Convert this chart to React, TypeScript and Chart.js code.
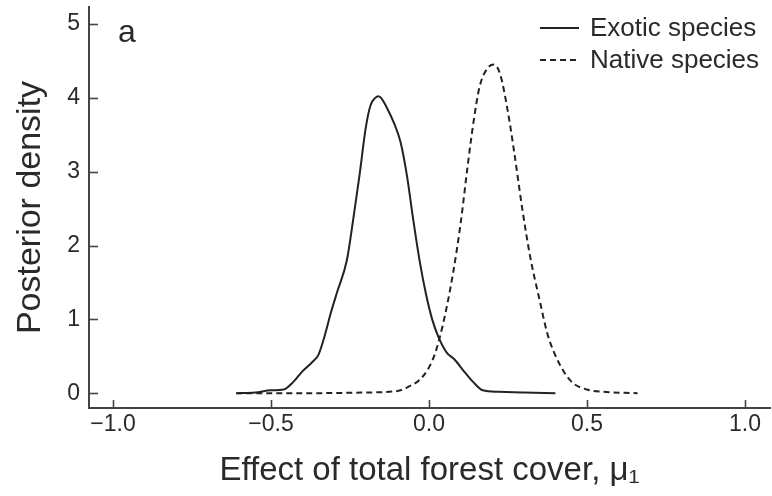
import React, { useEffect, useRef } from 'react';
import { Chart, registerables } from 'chart.js';

Chart.register(...registerables);

// ---- data ----
const exoticX = [-0.61, -0.55, -0.5, -0.46, -0.43, -0.4, -0.37, -0.35, -0.33, -0.31, -0.29, -0.26, -0.24, -0.22, -0.2, -0.185, -0.17, -0.16, -0.15, -0.135, -0.11, -0.09, -0.07, -0.05, -0.03, -0.01, 0.01, 0.03, 0.056, 0.08, 0.11, 0.14, 0.17, 0.22, 0.3, 0.4];
const exoticY = [0.0, 0.01, 0.04, 0.05, 0.15, 0.3, 0.42, 0.52, 0.78, 1.1, 1.38, 1.8, 2.35, 2.95, 3.6, 3.9, 4.0, 4.02, 3.99, 3.88, 3.65, 3.4, 2.95, 2.35, 1.8, 1.35, 1.0, 0.76, 0.55, 0.46, 0.3, 0.15, 0.04, 0.02, 0.01, 0.0];
const nativeX = [-0.61, -0.4, -0.2, -0.1, -0.06, -0.03, 0.0, 0.02, 0.045, 0.075, 0.1, 0.12, 0.14, 0.16, 0.185, 0.205, 0.225, 0.25, 0.27, 0.295, 0.32, 0.35, 0.375, 0.41, 0.45, 0.5, 0.55, 0.66];
const nativeY = [0.0, 0.0, 0.01, 0.03, 0.1, 0.18, 0.35, 0.55, 0.95, 1.6, 2.3, 3.0, 3.65, 4.15, 4.4, 4.45, 4.32, 3.8, 3.25, 2.5, 1.85, 1.26, 0.8, 0.42, 0.16, 0.05, 0.02, 0.0];

const seriesLabels = ['Exotic species', 'Native species'];
const xTickValues = [-1.0, -0.5, 0.0, 0.5, 1.0];
const yTickValues = [0, 1, 2, 3, 4, 5];
const panelLabel = 'a';
const xTitle = 'Effect of total forest cover, \u03bc\u2081';
const yTitle = 'Posterior density';

const FONT = '"Liberation Sans", Arial, Helvetica, sans-serif';
const INK = '#2a2a2a';
const AXIS = '#444444';

const innerTicks = {
  id: 'innerTicks',
  afterDraw(chart: any) {
    const { ctx, chartArea, scales } = chart;
    const x = scales.x;
    const y = scales.y;
    ctx.save();
    ctx.strokeStyle = AXIS;
    ctx.lineWidth = 1.6;
    y.ticks.forEach((t: any) => {
      const py = Math.round(y.getPixelForValue(t.value)) + 0.5;
      ctx.beginPath();
      ctx.moveTo(chartArea.left, py);
      ctx.lineTo(chartArea.left + 9, py);
      ctx.stroke();
    });
    x.ticks.forEach((t: any) => {
      const px = Math.round(x.getPixelForValue(t.value)) + 0.5;
      ctx.beginPath();
      ctx.moveTo(px, chartArea.bottom);
      ctx.lineTo(px, chartArea.bottom - 8);
      ctx.stroke();
    });
    ctx.restore();
  },
};

const customLegend = {
  id: 'customLegend',
  afterDraw(chart: any) {
    const { ctx, chartArea } = chart;
    ctx.save();
    // panel label
    ctx.fillStyle = INK;
    ctx.font = `32px ${FONT}`;
    ctx.textBaseline = 'alphabetic';
    ctx.textAlign = 'left';
    ctx.fillText(panelLabel, chartArea.left + 29, chartArea.top + 35);
    // legend
    const rows = [chartArea.top + 21, chartArea.top + 53];
    chart.data.datasets.forEach((ds: any, i: number) => {
      const yy = rows[i];
      const x0 = chartArea.right - 230;
      ctx.strokeStyle = ds.borderColor;
      ctx.lineWidth = 2;
      ctx.setLineDash(ds.borderDash || []);
      ctx.beginPath();
      ctx.moveTo(x0, yy);
      ctx.lineTo(x0 + 39, yy);
      ctx.stroke();
      ctx.setLineDash([]);
      ctx.fillStyle = INK;
      ctx.font = `26px ${FONT}`;
      ctx.textBaseline = 'middle';
      ctx.fillText(ds.label, x0 + 50, yy + 1);
    });
    ctx.restore();
  },
};

export default function App() {
  const ref = useRef<HTMLCanvasElement | null>(null);

  useEffect(() => {
    if (!ref.current) return;
    const chart = new Chart(ref.current, {
      type: 'line',
      data: {
        datasets: [
          {
            label: seriesLabels[0],
            data: exoticX.map((x, i) => ({ x, y: exoticY[i] })),
            borderColor: '#222222',
            borderWidth: 2,
            pointRadius: 0,
            cubicInterpolationMode: 'monotone',
            fill: false,
          },
          {
            label: seriesLabels[1],
            data: nativeX.map((x, i) => ({ x, y: nativeY[i] })),
            borderColor: '#222222',
            borderWidth: 2,
            borderDash: [6, 4],
            pointRadius: 0,
            cubicInterpolationMode: 'monotone',
            fill: false,
          },
        ],
      },
      options: {
        responsive: false,
        animation: false,
        devicePixelRatio: 1,
        layout: { padding: { top: 7, right: 2, left: 0, bottom: 0 } },
        plugins: {
          legend: { display: false },
          tooltip: { enabled: false },
        },
        scales: {
          x: {
            type: 'linear',
            min: -1.076,
            max: 1.079,
            afterBuildTicks: (s: any) => {
              s.ticks = xTickValues.map((v) => ({ value: v }));
            },
            afterFit: (s: any) => {
              s.height = 88;
              s.paddingLeft = 0;
              s.paddingRight = 0;
            },
            grid: { display: false, drawTicks: false },
            border: { display: true, color: AXIS, width: 2 },
            ticks: {
              padding: 3,
              color: INK,
              font: { family: FONT, size: 23 },
              maxRotation: 0,
              autoSkip: false,
              callback: (v: any) => (v < 0 ? '\u2212' : '') + Math.abs(Number(v)).toFixed(1),
            },
            title: {
              display: true,
              text: xTitle,
              color: INK,
              font: { family: FONT, size: 33 },
              padding: { top: 0, bottom: 5 },
            },
          },
          y: {
            type: 'linear',
            min: -0.2,
            max: 5.23,
            afterBuildTicks: (s: any) => {
              s.ticks = yTickValues.map((v) => ({ value: v }));
            },
            afterFit: (s: any) => {
              s.width = 89;
              s.paddingTop = 0;
              s.paddingBottom = 0;
            },
            grid: { display: false, drawTicks: false },
            border: { display: true, color: AXIS, width: 2 },
            ticks: {
              padding: 9,
              color: INK,
              font: { family: FONT, size: 23 },
              autoSkip: false,
              callback: (v: any) => String(v),
            },
            title: {
              display: true,
              text: yTitle,
              color: INK,
              font: { family: FONT, size: 34 },
              padding: { top: 10, bottom: 0 },
            },
          },
        },
      } as any,
      plugins: [innerTicks, customLegend],
    });
    return () => chart.destroy();
  }, []);

  return (
    <div style={{ position: 'absolute', left: 0, top: 0, width: 772, height: 496, background: '#fff' }}>
      <canvas ref={ref} width={772} height={496} style={{ display: 'block' }} />
    </div>
  );
}
